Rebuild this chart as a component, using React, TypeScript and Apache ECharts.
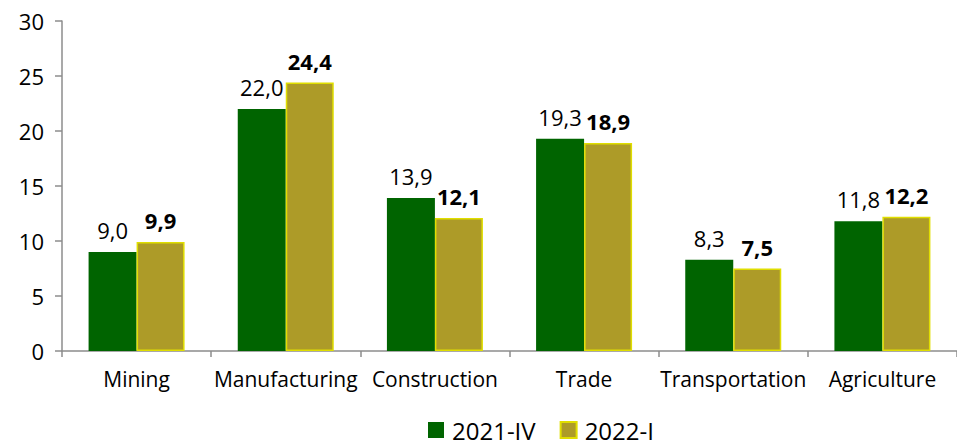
import React, { useEffect, useRef } from "react";
import * as echarts from "echarts";

const categories = ["Mining", "Manufacturing", "Construction", "Trade", "Transportation", "Agriculture"];
const series2021IV = [9.0, 22.0, 13.9, 19.3, 8.3, 11.8];
const series2022I = [9.9, 24.4, 12.1, 18.9, 7.5, 12.2];
const seriesNames = ["2021-IV", "2022-I"];

const FONT = "'Open Sans', 'Noto Sans', sans-serif";
const fmt = (v: number) => v.toFixed(1).replace(".", ",");

export default function App() {
  const ref = useRef<HTMLDivElement>(null);
  useEffect(() => {
    if (!ref.current) return;
    const chart = echarts.init(ref.current, undefined, { renderer: "svg" });
    chart.setOption({
      animation: false,
      backgroundColor: "#ffffff",
      textStyle: { fontFamily: FONT },
      legend: {
        top: 416,
        left: 428,
        padding: 0,
        itemWidth: 16,
        itemHeight: 16,
        itemGap: 24,
        icon: "rect",
        textStyle: { fontFamily: FONT, fontSize: 24, lineHeight: 28, color: "#000", padding: [0, 0, 0, 3] },
        data: seriesNames,
      },
      grid: { left: 62, right: -10, top: 21, bottom: 96, containLabel: false },
      xAxis: {
        type: "category",
        data: categories,
        axisLine: { lineStyle: { color: "#8c8c8c", width: 1.5 } },
        axisTick: { show: true, length: 6, alignWithLabel: false, lineStyle: { color: "#8c8c8c", width: 1.5 } },
        axisLabel: { fontFamily: FONT, fontSize: 21, color: "#000", margin: 17, interval: 0 },
      },
      yAxis: {
        type: "value",
        min: 0,
        max: 30,
        interval: 5,
        splitLine: { show: false },
        axisLine: { show: true, lineStyle: { color: "#8c8c8c", width: 1.5 } },
        axisTick: { show: true, length: 7, lineStyle: { color: "#8c8c8c", width: 1.5 } },
        axisLabel: { fontFamily: FONT, fontSize: 22, color: "#000", margin: 18 },
      },
      series: [
        {
          name: seriesNames[0],
          type: "bar",
          data: series2021IV,
          barWidth: 48,
          barGap: "0%",
          itemStyle: { color: "#006400" },
          label: {
            show: true,
            position: "top",
            distance: 11,
            fontFamily: FONT,
            fontSize: 22,
            color: "#000",
            formatter: (p: any) => fmt(p.value),
          },
        },
        {
          name: seriesNames[1],
          type: "bar",
          data: series2022I,
          barWidth: 48,
          barGap: "0%",
          itemStyle: { color: "#ad9b28", borderColor: "#e0de00", borderWidth: 1.5 },
          label: {
            show: true,
            position: "top",
            distance: 11,
            fontFamily: FONT,
            fontSize: 22,
            fontWeight: "bold",
            color: "#000",
            formatter: (p: any) => fmt(p.value),
          },
        },
      ],
    });
    return () => chart.dispose();
  }, []);
  return <div ref={ref} style={{ width: 957, height: 447, position: "absolute", left: 0, top: 0 }} />;
}
